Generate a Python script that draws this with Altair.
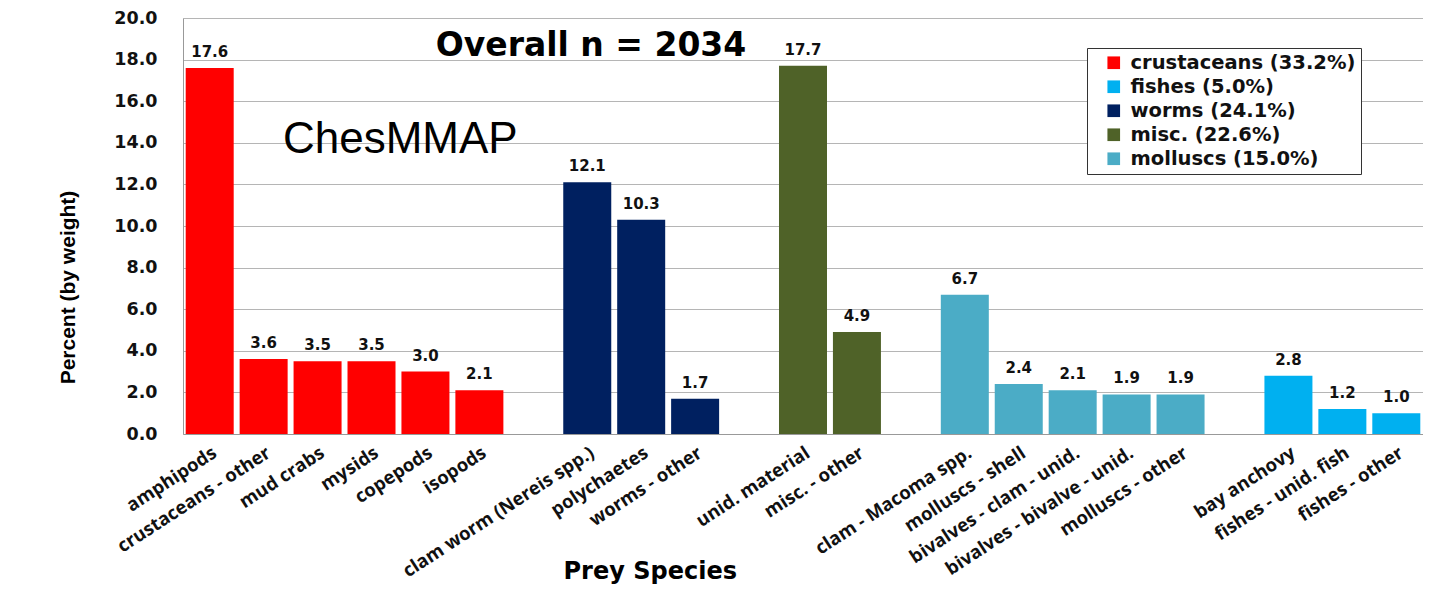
import altair as alt
import pandas as pd

# ---- data ----
species = [
    "amphipods", "crustaceans - other", "mud crabs", "mysids", "copepods", "isopods",
    "clam worm (Nereis spp.)", "polychaetes", "worms - other",
    "unid. material", "misc. - other",
    "clam - Macoma spp.", "molluscs - shell", "bivalves - clam - unid.",
    "bivalves - bivalve - unid.", "molluscs - other",
    "bay anchovy", "fishes - unid. fish", "fishes - other",
]
values = [17.6, 3.6, 3.5, 3.5, 3.0, 2.1,
          12.1, 10.3, 1.7,
          17.7, 4.9,
          6.7, 2.4, 2.1, 1.9, 1.9,
          2.8, 1.2, 1.0]
groups = ["crustaceans (33.2%)"] * 6 + ["worms (24.1%)"] * 3 + ["misc. (22.6%)"] * 2 \
    + ["molluscs (15.0%)"] * 5 + ["fishes (5.0%)"] * 3

legend_order = ["crustaceans (33.2%)", "fishes (5.0%)", "worms (24.1%)",
                "misc. (22.6%)", "molluscs (15.0%)"]
legend_colors = ["#FF0000", "#00B0F0", "#002060", "#4F6228", "#4BACC6"]

# x domain with empty gap slots between groups
gap = [" ", "  ", "   ", "    "]
x_domain = (species[0:6] + [gap[0]] + species[6:9] + [gap[1]] + species[9:11]
            + [gap[2]] + species[11:16] + [gap[3]] + species[16:19])

df = pd.DataFrame({"species": species, "value": values, "group": groups})

W, H = 1240, 416

x_enc = alt.X(
    "species:N",
    scale=alt.Scale(domain=x_domain, paddingInner=0.11, paddingOuter=0.05),
    sort=x_domain,
    axis=alt.Axis(
        title="Prey Species", titleFont="DejaVu Sans", titleFontSize=24,
        titleFontWeight="bold", titleColor="#000", titleAnchor="start",
        titleAlign="left", titleX=380, titleY=137, titleBaseline="middle",
        labelAngle=-33, labelFont="Open Sans", labelFontSize=18.5,
        labelFontWeight="bold", labelColor="#111", labelAlign="right",
        labelBaseline="top", labelPadding=9, ticks=False, domainColor="#999",
        labelOverlap=False, labelLimit=400,
    ),
)
y_enc = alt.Y(
    "value:Q",
    scale=alt.Scale(domain=[0, 20], nice=False),
    axis=alt.Axis(
        title="Percent (by weight)",
        titleFont="Liberation Sans", titleFontSize=21,
        titleFontWeight="bold", titleColor="#000",
        titleX=-115, titleY=269, titleAngle=270, titleAlign="center",
        titleBaseline="middle",
        values=[0, 2, 4, 6, 8, 10, 12, 14, 16, 18, 20], format=".1f",
        labelFont="DejaVu Sans", labelFontSize=17.5, labelFontWeight="bold",
        labelColor="#111", labelPadding=26, ticks=False,
        gridColor="#b5b5b5", domainColor="#999",
    ),
)

base = alt.Chart(df)

bars = base.mark_bar().encode(
    x=x_enc, y=y_enc,
    color=alt.Color(
        "group:N",
        scale=alt.Scale(domain=legend_order, range=legend_colors),
        legend=alt.Legend(
            title=None, orient="none", legendX=904, legendY=30,
            direction="vertical", symbolType="square", symbolSize=160,
            symbolStrokeWidth=0, symbolOffset=12, labelOffset=7,
            labelFont="DejaVu Sans", labelFontSize=19.5, labelFontWeight="bold",
            labelColor="#111", rowPadding=3, padding=5,
            strokeColor="#333", fillColor="#fff", labelLimit=400,
        ),
    ),
)

labels = base.mark_text(
    baseline="bottom", dy=-8, font="DejaVu Sans", fontSize=15,
    fontWeight="bold", color="#111",
).encode(x=alt.X("species:N", sort=x_domain), y="value:Q",
         text=alt.Text("value:Q", format=".1f"))

overall = alt.Chart(pd.DataFrame({"t": ["Overall n = 2034"]})).mark_text(
    font="DejaVu Sans", fontSize=33, fontWeight="bold", color="#000",
    align="center", baseline="middle",
).encode(text="t:N", x=alt.value(408), y=alt.value(28))

ches = alt.Chart(pd.DataFrame({"t": ["ChesMMAP"]})).mark_text(
    font="Liberation Sans", fontSize=44, color="#000",
    align="left", baseline="middle",
).encode(text="t:N", x=alt.value(100), y=alt.value(122))

chart = alt.layer(bars, labels, overall, ches).properties(
    width=W, height=H,
    padding={"left": 175, "top": 10, "right": 0, "bottom": 152},
    autosize=alt.AutoSizeParams(type="none"),
).configure_view(stroke="#444", strokeWidth=1).configure(background="#ffffff")

chart.save("out.html", embed_options={"renderer": "svg", "actions": False})
